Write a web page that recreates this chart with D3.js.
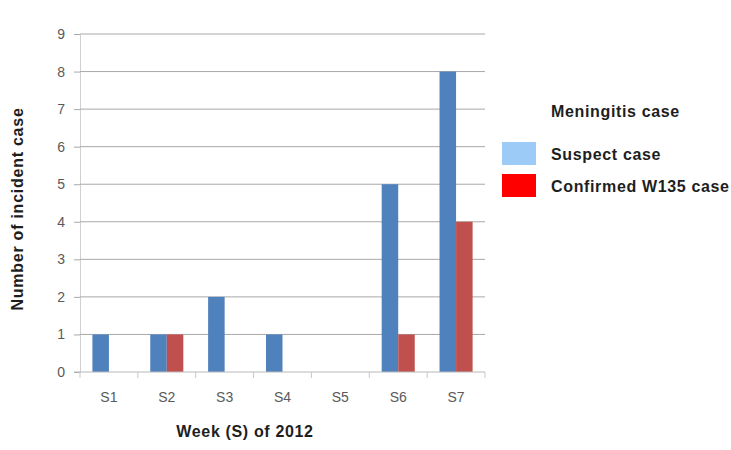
<!DOCTYPE html>
<html>
<head>
<meta charset="utf-8">
<script src="https://cdn.jsdelivr.net/npm/d3@7"></script>
<style>
  body { margin: 0; background: #fff; }
  svg { display: block; }
  text { font-family: "Liberation Sans", Arial, sans-serif; }
  .title { font-weight: bold; font-size: 16px; letter-spacing: 0.65px; fill: #1e1e1e; }
</style>
</head>
<body>
<svg id="chart" width="731" height="450"></svg>
<script>
// Weekly meningitis cases, 2012
const weeks = ["S1", "S2", "S3", "S4", "S5", "S6", "S7"];
const suspectCases = [1, 1, 2, 1, 0, 5, 8];
const confirmedCases = [0, 1, 0, 0, 0, 1, 4];
const yTicks = [0, 1, 2, 3, 4, 5, 6, 7, 8, 9];
const seriesNames = ["Suspect", "Confirmed"];
const barColors = ["#4f81bd", "#c0504d"];
const legendTitle = "Meningitis case";
const legendLabels = ["Suspect case", "Confirmed W135 case"];
const legendColors = ["#9dcbf7", "#ff0000"];

const svg = d3.select("#chart");
const margin = { left: 80, right: 246, top: 34, bottom: 78 };
const W = 731, H = 450;

const x = d3.scaleBand().domain(weeks).range([margin.left, W - margin.right]);
const xInner = d3.scaleBand().domain(seriesNames)
  .range([0, x.bandwidth()]).paddingOuter(0.75).paddingInner(0);
const y = d3.scaleLinear().domain([0, 9]).range([H - margin.bottom, margin.top]);

// y axis: short ticks left of the axis line
svg.append("g")
  .attr("transform", `translate(${margin.left},0)`)
  .call(d3.axisLeft(y).tickValues(yTicks).tickSize(6).tickFormat(d3.format("d")))
  .call(g => g.select(".domain").attr("stroke", "#d0d0d0"))
  .call(g => g.selectAll(".tick line").attr("stroke", "#a8a8a8"))
  .call(g => g.selectAll(".tick text")
    .attr("fill", "#5a5a5a").attr("font-size", 14).attr("x", -15));

// horizontal gridlines
svg.append("g")
  .selectAll("line")
  .data(yTicks.filter(d => d > 0))
  .join("line")
  .attr("x1", margin.left).attr("x2", W - margin.right)
  .attr("y1", d => y(d)).attr("y2", d => y(d))
  .attr("stroke", "#a8a8a8").attr("stroke-width", 1);

// bars
const rows = weeks.map((w, i) => ({ week: w, values: [suspectCases[i], confirmedCases[i]] }));
svg.append("g")
  .selectAll("g")
  .data(rows)
  .join("g")
  .attr("transform", d => `translate(${x(d.week)},0)`)
  .selectAll("rect")
  .data(d => d.values.map((v, j) => ({ key: seriesNames[j], v, j })))
  .join("rect")
  .attr("x", d => xInner(d.key))
  .attr("width", xInner.bandwidth())
  .attr("y", d => y(d.v))
  .attr("height", d => y(0) - y(d.v))
  .attr("fill", d => barColors[d.j]);

// x axis with ticks between categories
const xAxis = svg.append("g")
  .attr("transform", `translate(0,${y(0)})`);
xAxis.append("line")
  .attr("x1", margin.left - 6).attr("x2", W - margin.right)
  .attr("stroke", "#b8b8b8");
xAxis.selectAll(".sep")
  .data(weeks.map(w => x(w)).concat([W - margin.right]))
  .join("line")
  .attr("class", "sep")
  .attr("x1", d => d).attr("x2", d => d)
  .attr("y1", 0).attr("y2", 6)
  .attr("stroke", "#c8c8c8");
xAxis.selectAll(".lbl")
  .data(weeks)
  .join("text")
  .attr("class", "lbl")
  .attr("x", d => x(d) + x.bandwidth() / 2)
  .attr("y", 30)
  .attr("text-anchor", "middle")
  .attr("fill", "#5a5a5a")
  .attr("font-size", 14)
  .text(d => d);

// axis titles
svg.append("text")
  .attr("class", "title")
  .attr("x", 245).attr("y", 437)
  .attr("text-anchor", "middle")
  .text("Week (S) of 2012");

svg.append("text")
  .attr("class", "title")
  .attr("transform", "translate(23,209) rotate(-90)")
  .attr("text-anchor", "middle")
  .style("letter-spacing", "0.75px")
  .text("Number of incident case");

// legend
const legend = svg.append("g");
legend.append("text")
  .attr("class", "title")
  .attr("x", 551).attr("y", 117)
  .text(legendTitle);
const items = legend.selectAll(".item")
  .data(legendLabels)
  .join("g")
  .attr("class", "item")
  .attr("transform", (d, i) => `translate(0,${142 + i * 32})`);
items.append("rect")
  .attr("x", 502).attr("y", 0)
  .attr("width", 34).attr("height", 23)
  .attr("fill", (d, i) => legendColors[i]);
items.append("text")
  .attr("class", "title")
  .attr("x", 551).attr("y", 18)
  .text(d => d);
</script>
</body>
</html>
